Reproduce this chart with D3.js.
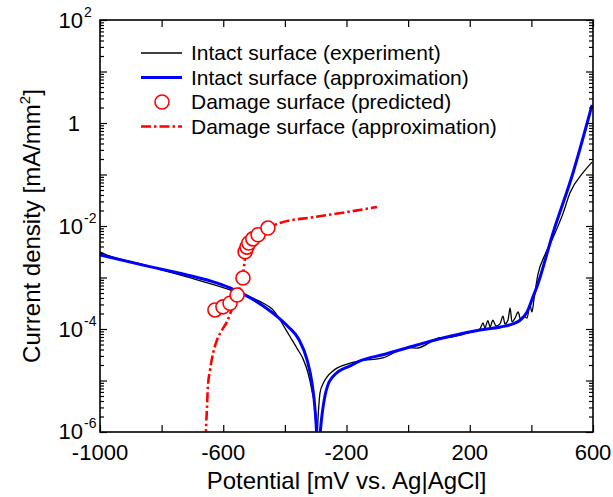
<!DOCTYPE html>
<html>
<head>
<meta charset="utf-8">
<script src="https://cdn.jsdelivr.net/npm/d3@7"></script>
<style>
  body { margin: 0; background: #fff; }
  text { font-family: "Liberation Sans", Arial, sans-serif; }
</style>
</head>
<body>
<div id="chart"></div>
<script>
// potentials in mV, current densities as log10(mA/mm2)
var expPotential = [-1000, -990, -860, -718, -578, -513, -470, -440, -420, -400, -383, -360, -341, -325, -312, -302, -297,
  -292, -286, -275, -263, -245, -231, -198, -156, -82, 0, 29, 103, 136, 168, 191, 217, 233,
  243, 249, 259, 266, 275, 285, 298, 308, 314, 324, 331, 337, 347, 357, 366, 376, 386, 395, 402, 408, 421, 444, 470, 503, 525, 567, 597];
var expLogI = [-2.50, -2.53, -2.75, -2.99, -3.24, -3.38, -3.50, -3.62, -3.78, -3.98, -4.15, -4.38, -4.58, -4.85, -5.20, -5.57, -6.3,
  -5.70, -5.24, -5.05, -4.93, -4.82, -4.76, -4.68, -4.62, -4.56, -4.36, -4.37, -4.17, -4.16, -4.12, -4.08, -4.04, -4.00,
  -3.88, -3.98, -3.84, -3.96, -3.83, -3.94, -3.90, -3.75, -3.90, -3.83, -3.59, -3.86, -3.79, -3.67, -3.83, -3.75, -3.79, -3.53, -3.67, -3.44, -2.95, -2.56, -2.23, -1.75, -1.36, -0.97, -0.76];

var fitPotential = [-1000, -860, -718, -640, -578, -510, -439, -390, -355, -328, -312, -303, -296, -293,
  -290, -285, -278, -270, -260, -245, -225, -190, -156, -82, 29, 136, 233, 300, 340, 363, 386, 405, 418, 470, 535, 597];
var fitLogI = [-2.56, -2.76, -2.95, -3.07, -3.20, -3.40, -3.69, -3.95, -4.20, -4.60, -5.05, -5.50, -6.20, -7.0,
  -6.50, -6.00, -5.60, -5.30, -5.08, -4.93, -4.82, -4.72, -4.62, -4.50, -4.31, -4.14, -4.02, -3.96, -3.90, -3.83, -3.67, -3.38, -3.18, -2.14, -0.97, 0.35];

var dmgPotential = [-627, -601, -578, -555, -536, -529, -523, -517, -504, -487, -455];
var dmgLogI = [-3.63, -3.57, -3.50, -3.34, -3.01, -2.50, -2.41, -2.33, -2.25, -2.17, -2.04];

var dmgFitPotential = [-657, -656, -653, -650, -643, -633, -620, -604, -588, -568, -555, -542, -532, -526, -513, -487, -455, -416, -309, -199, -101];
var dmgFitLogI = [-6.5, -6.0, -5.57, -5.13, -4.80, -4.47, -4.21, -4.02, -3.86, -3.55, -3.34, -3.11, -2.76, -2.47, -2.31, -2.17, -2.04, -1.94, -1.83, -1.73, -1.63];

var xTickLabels = [-1000, -600, -200, 200, 600];
var yTickExponents = [2, 0, -2, -4, -6];
var legendLabels = ["Intact surface (experiment)", "Intact surface (approximation)", "Damage surface (predicted)", "Damage surface (approximation)"];

var width = 613, height = 497;
var margin = { left: 100, right: 20, top: 20, bottom: 65 };
var plotW = width - margin.left - margin.right;
var plotH = height - margin.top - margin.bottom;

var svg = d3.select("#chart").append("svg")
  .attr("width", width).attr("height", height);

var g = svg.append("g").attr("transform", "translate(" + margin.left + "," + margin.top + ")");

var x = d3.scaleLinear().domain([-1000, 600]).range([0, plotW]);
var y = d3.scaleLog().domain([1e-6, 100]).range([plotH, 0]);

function toPts(xs, ls) {
  return xs.map(function (v, i) { return [v, Math.pow(10, ls[i])]; });
}

// clip
g.append("clipPath").attr("id", "clip").append("rect")
  .attr("width", plotW).attr("height", plotH);

var data = g.append("g").attr("clip-path", "url(#clip)");

var line = d3.line().x(function (d) { return x(d[0]); }).y(function (d) { return y(d[1]); });

// damage approximation (red dash-dot)
data.append("path")
  .datum(toPts(dmgFitPotential, dmgFitLogI))
  .attr("d", line.curve(d3.curveMonotoneX))
  .attr("fill", "none").attr("stroke", "#ff0000").attr("stroke-width", 2.6)
  .attr("stroke-dasharray", "10,3,2.5,3");

// experiment (black)
data.append("path")
  .datum(toPts(expPotential, expLogI))
  .attr("d", line.curve(d3.curveMonotoneX))
  .attr("fill", "none").attr("stroke", "#000").attr("stroke-width", 1.3);

// approximation (blue)
data.append("path")
  .datum(toPts(fitPotential, fitLogI))
  .attr("d", line.curve(d3.curveMonotoneX))
  .attr("fill", "none").attr("stroke", "#0000ff").attr("stroke-width", 3);

// predicted damage points
data.selectAll("circle.dmg")
  .data(toPts(dmgPotential, dmgLogI))
  .enter().append("circle")
  .attr("class", "dmg")
  .attr("cx", function (d) { return x(d[0]); })
  .attr("cy", function (d) { return y(d[1]); })
  .attr("r", 7)
  .attr("fill", "#fff").attr("stroke", "#ff0000").attr("stroke-width", 1.6);

// axes (inward ticks)
var xTicks = d3.range(-1000, 601, 200);
g.append("g").attr("transform", "translate(0," + plotH + ")")
  .call(d3.axisBottom(x).tickValues(xTicks).tickSize(-7).tickFormat(""));
g.append("g")
  .call(d3.axisTop(x).tickValues(xTicks).tickSize(-7).tickFormat(""));

var majorY = d3.range(-6, 3).map(function (e) { return Math.pow(10, e); });
var minorY = y.ticks().filter(function (v) {
  return Math.abs(Math.log10(v) - Math.round(Math.log10(v))) > 1e-6;
});
g.append("g").call(d3.axisLeft(y).tickValues(majorY).tickSize(-7).tickFormat(""));
g.append("g").call(d3.axisLeft(y).tickValues(minorY).tickSize(-4).tickFormat(""));
g.append("g").attr("transform", "translate(" + plotW + ",0)")
  .call(d3.axisRight(y).tickValues(majorY).tickSize(-7).tickFormat(""));
g.append("g").attr("transform", "translate(" + plotW + ",0)")
  .call(d3.axisRight(y).tickValues(minorY).tickSize(-4).tickFormat(""));

g.selectAll(".domain").remove();
g.selectAll(".tick line").attr("stroke", "#000").attr("stroke-width", 1.2);

g.append("rect").attr("width", plotW).attr("height", plotH)
  .attr("fill", "none").attr("stroke", "#000").attr("stroke-width", 1.6);

// x tick labels
g.selectAll("text.xl").data(xTickLabels).enter().append("text")
  .attr("class", "xl")
  .attr("x", function (d) { return x(d); })
  .attr("y", plotH + 28)
  .attr("text-anchor", "middle")
  .style("font-size", "22px")
  .text(function (d) { return d; });

// y tick labels
yTickExponents.forEach(function (e) {
  var yy = y(Math.pow(10, e)) + 8;
  if (e === 0) {
    g.append("text").attr("x", -20).attr("y", yy).attr("text-anchor", "end")
      .style("font-size", "22px").text("1");
  } else {
    g.append("text").attr("x", -17).attr("y", e === -6 ? yy - 1 : yy).attr("text-anchor", "end")
      .style("font-size", "22px").text("10");
    g.append("text").attr("x", -16).attr("y", (e === -6 ? yy - 1 : yy) - 11).attr("text-anchor", "start")
      .style("font-size", "14px").text(e);
  }
});

// axis titles
svg.append("text")
  .attr("x", margin.left + plotW / 2).attr("y", 489)
  .attr("text-anchor", "middle")
  .style("font-size", "24px")
  .text("Potential [mV vs. Ag|AgCl]");

var yt = svg.append("text")
  .attr("transform", "translate(40," + (margin.top + plotH / 2) + ") rotate(-90)")
  .attr("text-anchor", "middle")
  .style("font-size", "24px");
yt.append("tspan").text("Current density [mA/mm");
yt.append("tspan").attr("dy", -10).style("font-size", "15px").text("2");
yt.append("tspan").attr("dy", 10).text("]");

// legend
var legY = [53, 77.5, 102, 126.5];
var leg = svg.append("g");
leg.append("line").attr("x1", 141).attr("x2", 182).attr("y1", legY[0]).attr("y2", legY[0])
  .attr("stroke", "#000").attr("stroke-width", 1.3);
leg.append("line").attr("x1", 141).attr("x2", 182).attr("y1", legY[1]).attr("y2", legY[1])
  .attr("stroke", "#0000ff").attr("stroke-width", 3);
leg.append("circle").attr("cx", 162).attr("cy", legY[2]).attr("r", 7)
  .attr("fill", "#fff").attr("stroke", "#ff0000").attr("stroke-width", 1.6);
leg.append("line").attr("x1", 141).attr("x2", 182).attr("y1", legY[3]).attr("y2", legY[3])
  .attr("stroke", "#ff0000").attr("stroke-width", 2.6).attr("stroke-dasharray", "10,3,2.5,3");

leg.selectAll("text").data(legendLabels).enter().append("text")
  .attr("x", 191)
  .attr("y", function (d, i) { return legY[i] + 7; })
  .style("font-size", "21px")
  .text(function (d) { return d; });
</script>
</body>
</html>
